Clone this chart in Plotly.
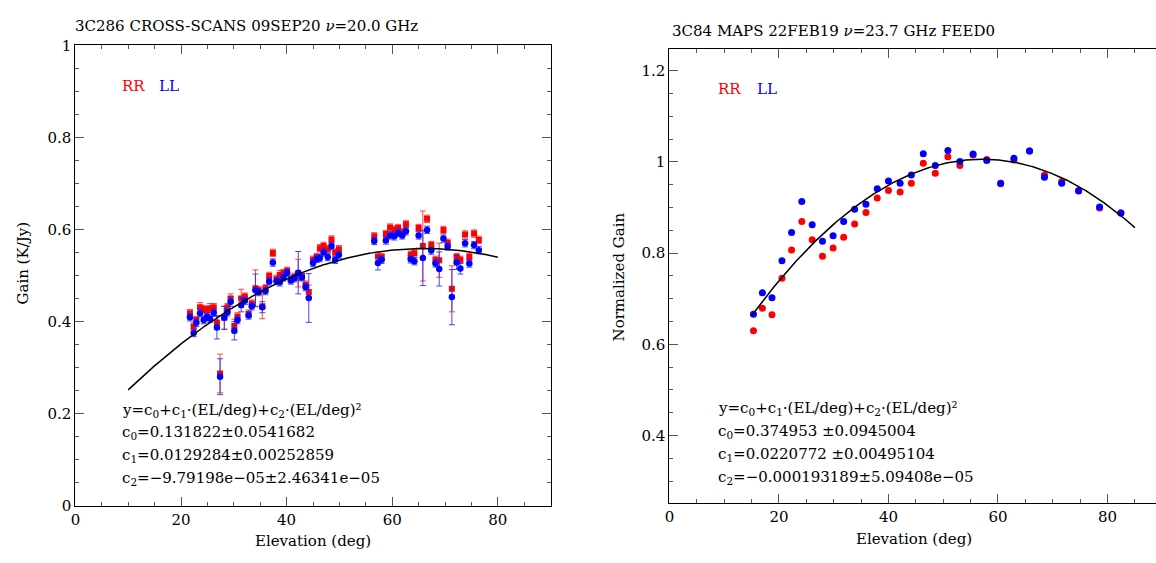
import numpy as np
import plotly.graph_objects as go

# ---------------- Left panel data: 3C286 cross-scans ----------------
el_left = [21.7, 22.4, 22.9, 23.6, 24.3, 24.9, 25.5, 26.2, 26.8, 27.4,
           28.2, 28.8, 29.4, 30.1, 30.7, 31.4, 32.1, 32.8, 33.4, 34.1,
           34.7, 35.4, 36.0, 36.7, 37.4, 38.1, 38.7, 39.4, 40.1, 40.8,
           41.5, 42.2, 42.9, 43.6, 44.2, 45.0, 45.7, 46.3, 47.0, 47.8,
           48.5, 49.2, 49.9,
           56.6, 57.3, 58.0, 58.8, 59.6, 60.4, 61.1, 61.9, 62.6, 63.5,
           64.2, 65.0, 65.8, 66.6, 67.4, 68.2, 68.9, 69.7, 70.5, 71.3,
           72.2, 72.9, 73.8, 74.6, 75.5, 76.4]

gain_rr = [0.418, 0.389, 0.403, 0.431, 0.427, 0.424, 0.429, 0.431, 0.398, 0.287,
           0.408, 0.431, 0.450, 0.390, 0.411, 0.450, 0.454, 0.417, 0.439, 0.472,
           0.468, 0.433, 0.472, 0.499, 0.549, 0.492, 0.501, 0.505, 0.510, 0.492,
           0.497, 0.505, 0.497, 0.480, 0.464, 0.534, 0.540, 0.559, 0.564, 0.557,
           0.578, 0.550, 0.557,
           0.585, 0.541, 0.540, 0.590, 0.604, 0.599, 0.603, 0.594, 0.611, 0.545,
           0.548, 0.603, 0.564, 0.623, 0.566, 0.534, 0.533, 0.599, 0.571, 0.471,
           0.540, 0.534, 0.589, 0.540, 0.591, 0.577]

gain_ll = [0.409, 0.375, 0.397, 0.418, 0.403, 0.410, 0.406, 0.419, 0.387, 0.280,
           0.408, 0.420, 0.443, 0.380, 0.403, 0.436, 0.445, 0.413, 0.433, 0.468,
           0.464, 0.431, 0.466, 0.487, 0.528, 0.488, 0.485, 0.496, 0.506, 0.489,
           0.494, 0.506, 0.496, 0.475, 0.451, 0.527, 0.536, 0.538, 0.550, 0.540,
           0.564, 0.534, 0.545,
           0.575, 0.527, 0.534, 0.576, 0.587, 0.585, 0.592, 0.587, 0.596, 0.535,
           0.531, 0.587, 0.538, 0.599, 0.554, 0.526, 0.514, 0.580, 0.563, 0.453,
           0.528, 0.515, 0.570, 0.526, 0.566, 0.555]

err_rr = [0.008, 0.008, 0.008, 0.010, 0.008, 0.008, 0.010, 0.008, 0.015, 0.042,
          0.025, 0.008, 0.010, 0.015, 0.008, 0.020, 0.008, 0.008, 0.008, 0.040,
          0.008, 0.027, 0.008, 0.008, 0.008, 0.008, 0.010, 0.008, 0.008, 0.008,
          0.008, 0.030, 0.008, 0.008, 0.015, 0.008, 0.008, 0.008, 0.008, 0.008,
          0.008, 0.008, 0.008,
          0.008, 0.010, 0.008, 0.008, 0.008, 0.008, 0.008, 0.008, 0.008, 0.008,
          0.008, 0.008, 0.076, 0.008, 0.008, 0.008, 0.037, 0.008, 0.008, 0.050,
          0.008, 0.008, 0.008, 0.008, 0.008, 0.008]

err_ll = [0.008, 0.008, 0.008, 0.008, 0.008, 0.008, 0.008, 0.008, 0.025, 0.039,
          0.025, 0.008, 0.010, 0.020, 0.008, 0.015, 0.008, 0.008, 0.008, 0.035,
          0.008, 0.012, 0.008, 0.008, 0.008, 0.008, 0.008, 0.008, 0.008, 0.008,
          0.008, 0.046, 0.008, 0.008, 0.053, 0.008, 0.008, 0.008, 0.008, 0.008,
          0.008, 0.008, 0.008,
          0.008, 0.015, 0.008, 0.008, 0.008, 0.008, 0.008, 0.008, 0.008, 0.008,
          0.008, 0.008, 0.060, 0.008, 0.008, 0.008, 0.037, 0.008, 0.008, 0.060,
          0.015, 0.012, 0.008, 0.008, 0.008, 0.008]

coef_left = [0.131822, 0.0129284, -9.79198e-05]
fit_left_span = [10, 80]

# ---------------- Right panel data: 3C84 maps ----------------
el_right = [15.35, 16.98, 18.73, 20.55, 22.31, 24.18, 26.07, 27.95, 29.89, 31.82,
            33.82, 35.89, 37.95, 40.00, 42.13, 44.18, 46.36, 48.55, 50.85, 53.04,
            55.45, 57.95, 60.49, 62.91, 65.76, 68.49, 71.64, 74.73, 78.55, 82.44]

norm_rr = [0.630, 0.679, 0.665, 0.745, 0.807, 0.869, 0.829, 0.793, 0.811, 0.835,
           0.864, 0.889, 0.921, 0.937, 0.934, 0.953, 0.997, 0.975, 1.011, 0.992,
           1.015, 1.005, 0.952, 1.004, 1.024, 0.971, 0.957, 0.937, 0.899, 0.888]

norm_ll = [0.666, 0.713, 0.702, 0.783, 0.845, 0.913, 0.862, 0.826, 0.838, 0.869,
           0.896, 0.907, 0.941, 0.958, 0.953, 0.971, 1.018, 0.992, 1.025, 1.001,
           1.017, 1.003, 0.953, 1.008, 1.024, 0.966, 0.953, 0.936, 0.901, 0.888]

coef_right = [0.374953, 0.0220772, -0.000193189]
fit_right_span = [15, 85]

title_left = "3C286 CROSS-SCANS 09SEP20 <i>ν</i>=20.0 GHz"
title_right = "3C84 MAPS 22FEB19 <i>ν</i>=23.7 GHz FEED0"
fit_lines_left = ["y=c<sub>0</sub>+c<sub>1</sub>·(EL/deg)+c<sub>2</sub>·(EL/deg)²",
                  "c<sub>0</sub>=0.131822±0.0541682",
                  "c<sub>1</sub>=0.0129284±0.00252859",
                  "c<sub>2</sub>=−9.79198e−05±2.46341e−05"]
fit_lines_right = ["y=c<sub>0</sub>+c<sub>1</sub>·(EL/deg)+c<sub>2</sub>·(EL/deg)²",
                   "c<sub>0</sub>=0.374953 ±0.0945004",
                   "c<sub>1</sub>=0.0220772 ±0.00495104",
                   "c<sub>2</sub>=−0.000193189±5.09408e−05"]

# ---------------- Figure ----------------
W, H = 1156, 563
FONT = "DejaVu Serif"
RED = "#ff0000"
BLUE = "#0000ff"


def pxx(x):
    return x / W


def pxy(y):
    return (H - y) / H


def poly(c, x):
    x = np.asarray(x, dtype=float)
    return c[0] + c[1] * x + c[2] * x ** 2


fig = go.Figure()

# left panel
fig.add_trace(go.Scatter(
    x=el_left, y=gain_rr, mode="markers", xaxis="x", yaxis="y",
    marker=dict(symbol="square", size=6, color=RED),
    error_y=dict(type="data", array=err_rr, color="rgba(255,40,40,0.85)",
                 thickness=1, width=3),
    showlegend=False))
fig.add_trace(go.Scatter(
    x=el_left, y=gain_ll, mode="markers", xaxis="x", yaxis="y",
    marker=dict(symbol="circle", size=6.5, color=BLUE),
    error_y=dict(type="data", array=err_ll, color="rgba(40,40,255,0.85)",
                 thickness=1, width=3),
    showlegend=False))
xf = np.linspace(fit_left_span[0], fit_left_span[1], 300)
fig.add_trace(go.Scatter(x=xf, y=poly(coef_left, xf), mode="lines",
                         xaxis="x", yaxis="y",
                         line=dict(color="black", width=1.5), showlegend=False))

# right panel
fig.add_trace(go.Scatter(
    x=el_right, y=norm_rr, mode="markers", xaxis="x2", yaxis="y2",
    marker=dict(symbol="circle", size=7, color=RED), showlegend=False))
fig.add_trace(go.Scatter(
    x=el_right, y=norm_ll, mode="markers", xaxis="x2", yaxis="y2",
    marker=dict(symbol="circle", size=7, color=BLUE), showlegend=False))
xf2 = np.linspace(fit_right_span[0], fit_right_span[1], 300)
fig.add_trace(go.Scatter(x=xf2, y=poly(coef_right, xf2), mode="lines",
                         xaxis="x2", yaxis="y2",
                         line=dict(color="black", width=1.5), showlegend=False))

tickfont = dict(family=FONT, size=15, color="black")
common = dict(showgrid=False, zeroline=False, showline=True, linecolor="black",
              linewidth=1, ticks="inside", ticklen=9, tickcolor="#555",
              tickwidth=1, tickfont=tickfont)
minor_x = dict(dtick=5, ticks="inside", ticklen=4, tickcolor="#555")
minor_y = dict(dtick=0.05, ticks="inside", ticklen=4, tickcolor="#555")

x2_end = (W - 667.3) / 5.5

fig.update_layout(
    width=W, height=H,
    margin=dict(l=0, r=0, t=0, b=0),
    paper_bgcolor="white", plot_bgcolor="white",
    xaxis=dict(domain=[pxx(70.7), pxx(548)], range=[0, 90], tick0=0, dtick=20,
               mirror="ticks", minor=minor_x, anchor="y", **common),
    yaxis=dict(domain=[pxy(513), pxy(37.5)], range=[0, 1], tick0=0, dtick=0.2,
               mirror="ticks", minor=minor_y, anchor="x", **common),
    xaxis2=dict(domain=[pxx(667.3), 1.0], range=[0, x2_end], tick0=0, dtick=20,
                mirror="ticks", minor=minor_x, anchor="y2", **common),
    yaxis2=dict(domain=[pxy(510), pxy(41)], range=[0.253, 1.248], tick0=0,
                dtick=0.2, mirror=False, minor=minor_y, anchor="x2", **common),
)

ann = []
# titles
ann.append(dict(text=title_left, x=pxx(68), y=pxy(18), xref="paper", yref="paper",
                xanchor="left", yanchor="middle", showarrow=False,
                font=dict(family=FONT, size=15, color="black")))
ann.append(dict(text=title_right, x=pxx(668), y=pxy(23), xref="paper", yref="paper",
                xanchor="left", yanchor="middle", showarrow=False,
                font=dict(family=FONT, size=15, color="black")))
# axis titles
ann.append(dict(text="Elevation (deg)", x=pxx(309), y=pxy(550), xref="paper",
                yref="paper", xanchor="center", yanchor="middle", showarrow=False,
                font=dict(family=FONT, size=15, color="black")))
ann.append(dict(text="Elevation (deg)", x=pxx(913), y=pxy(548), xref="paper",
                yref="paper", xanchor="center", yanchor="middle", showarrow=False,
                font=dict(family=FONT, size=15, color="black")))
ann.append(dict(text="Gain (K/Jy)", x=pxx(18), y=pxy(262), xref="paper",
                yref="paper", xanchor="center", yanchor="middle", showarrow=False,
                textangle=-90, font=dict(family=FONT, size=15, color="black")))
ann.append(dict(text="Normalized Gain", x=pxx(617), y=pxy(277), xref="paper",
                yref="paper", xanchor="center", yanchor="middle", showarrow=False,
                textangle=-90, font=dict(family=FONT, size=15, color="black")))
# RR / LL labels
for txt, xx, col in [("RR", 11.0, RED), ("LL", 17.8, BLUE)]:
    ann.append(dict(text=txt, x=xx, y=0.912, xref="x", yref="y", xanchor="center",
                    yanchor="middle", showarrow=False,
                    font=dict(family=FONT, size=15, color=col)))
for txt, xx, col in [("RR", 11.0, RED), ("LL", 17.8, BLUE)]:
    ann.append(dict(text=txt, x=xx, y=1.159, xref="x2", yref="y2", xanchor="center",
                    yanchor="middle", showarrow=False,
                    font=dict(family=FONT, size=15, color=col)))
# fit text
for line, yy in zip(fit_lines_left, [415, 438, 461, 485]):
    ann.append(dict(text=line, x=pxx(116), y=pxy(yy), xref="paper", yref="paper",
                    xanchor="left", yanchor="middle", showarrow=False,
                    font=dict(family=FONT, size=15, color="black")))
for line, yy in zip(fit_lines_right, [413, 436, 460, 484]):
    ann.append(dict(text=line, x=pxx(714), y=pxy(yy), xref="paper", yref="paper",
                    xanchor="left", yanchor="middle", showarrow=False,
                    font=dict(family=FONT, size=15, color="black")))

fig.update_layout(annotations=ann)

fig.write_html("out.html")
